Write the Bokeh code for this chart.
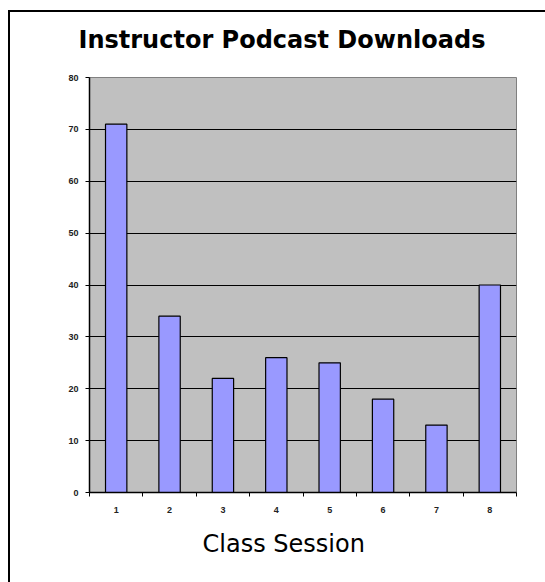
from bokeh.plotting import figure
from bokeh.models import ColumnDataSource, FixedTicker, Title, Range1d
from bokeh.embed import file_html
from bokeh.resources import INLINE

# Data
sessions = [1, 2, 3, 4, 5, 6, 7, 8]
downloads = [71, 34, 22, 26, 25, 18, 13, 40]
y_ticks = [0, 10, 20, 30, 40, 50, 60, 70, 80]
chart_title = "Instructor Podcast Downloads"
x_title = "Class Session"

source = ColumnDataSource(data=dict(x=sessions, y=downloads))

p = figure(width=535, height=570, output_backend="svg", toolbar_location=None,
           x_range=Range1d(0.5, 8.5), y_range=Range1d(0, 80),
           min_border_left=79, min_border_right=29, min_border_top=65, min_border_bottom=90)
# outer chart border drawn as a shadow (does not change the layout size)
p.styles = {"margin-left": "10px", "margin-top": "12px",
            "box-shadow": "0 -2px 0 0 black, -2px 0 0 0 black, -2px -2px 0 0 black"}

p.background_fill_color = "#C0C0C0"
p.border_fill_color = "white"
p.outline_line_color = "#808080"
p.outline_line_width = 1

p.vbar(x="x", top="y", width=0.4, source=source,
       fill_color="#9999FF", line_color="black", line_width=1.2)

# spacer between title and plot area
spacer = Title(text=" ", text_font_size="1px", standoff=16)
p.add_layout(spacer, "above")

# title
t = Title(text=chart_title, align="left", offset=-11,
          text_font="DejaVu Sans", text_font_size="24px", text_font_style="bold",
          text_color="black", standoff=10)
p.add_layout(t, "above")

# x axis
p.xaxis.ticker = FixedTicker(ticks=sessions, minor_ticks=[s - 0.5 for s in sessions] + [8.5])
p.xaxis.major_tick_out = 0
p.xaxis.major_tick_in = 0
p.xaxis.minor_tick_out = 4
p.xaxis.minor_tick_in = 0
p.xaxis.minor_tick_line_color = "black"
p.xaxis.axis_line_color = "black"
p.xaxis.axis_line_width = 1.5
p.xaxis.major_label_standoff = 10
p.xaxis.major_label_text_font = "Liberation Sans"
p.xaxis.major_label_text_font_size = "9px"
p.xaxis.major_label_text_font_style = "bold"
p.xaxis.major_label_text_color = "#222222"

xt = Title(text=x_title, align="left", offset=113,
           text_font="DejaVu Sans", text_font_size="24px", text_font_style="normal",
           text_color="black", standoff=24)
p.add_layout(xt, "below")

# y axis
p.yaxis.ticker = FixedTicker(ticks=y_ticks)
p.yaxis.minor_tick_line_color = None
p.yaxis.major_tick_out = 4
p.yaxis.major_tick_in = 0
p.yaxis.major_tick_line_color = "black"
p.yaxis.axis_line_color = "black"
p.yaxis.axis_line_width = 1.5
p.yaxis.major_label_standoff = 7
p.yaxis.major_label_text_font = "Liberation Sans"
p.yaxis.major_label_text_font_size = "9px"
p.yaxis.major_label_text_font_style = "bold"
p.yaxis.major_label_text_color = "#222222"

# grid
p.xgrid.grid_line_color = None
p.ygrid.ticker = FixedTicker(ticks=y_ticks[1:-1])
p.ygrid.grid_line_color = "black"
p.ygrid.grid_line_width = 1.2
p.ygrid.grid_line_alpha = 1.0

open("out.html", "w").write(file_html(p, INLINE))
